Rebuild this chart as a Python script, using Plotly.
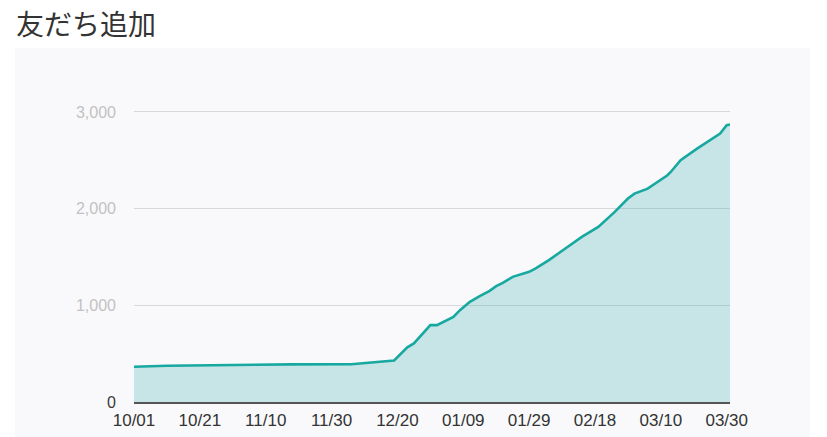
import plotly.graph_objects as go
import pandas as pd

# ---- data ----
start_date = "2022-10-01"
day_offsets = [0, 10, 48, 66, 79, 81, 83, 85, 87, 90, 92, 94, 97, 99, 102, 105, 108,
               110, 112, 115, 120, 122, 126, 131, 136, 141, 146, 150, 152, 156, 162,
               163, 166, 171, 175, 178, 180, 181]
friends = [365, 375, 389, 390, 430, 500, 565, 606, 682, 795, 795, 830, 881, 950, 1036,
           1095, 1150, 1198, 1232, 1294, 1346, 1381, 1467, 1588, 1708, 1811, 1966, 2104,
           2155, 2207, 2345, 2379, 2500, 2621, 2707, 2776, 2862, 2870]
tick_offsets = [0, 20, 40, 60, 80, 100, 120, 140, 160, 180]
y_tick_vals = [0, 1000, 2000, 3000]
y_tick_labels = ["0", "1,000", "2,000", "3,000"]
title_text = "友だち追加"

base = pd.Timestamp(start_date)
dates = [base + pd.Timedelta(days=d) for d in day_offsets]
tick_dates = [base + pd.Timedelta(days=d) for d in tick_offsets]
tick_text = [d.strftime("%m/%d") for d in tick_dates]

W, H = 827, 437
ml, mr, mt, mb = 134, 97, 110, 35

fig = go.Figure()
fig.add_trace(go.Scatter(
    x=dates, y=friends, mode="lines",
    line=dict(color="#17a8a0", width=2.6),
    fill="tozeroy", fillcolor="rgba(24,160,160,0.22)",
    hoverinfo="skip", showlegend=False,
))

pw = W - ml - mr
ph = H - mt - mb
# light panel behind chart
fig.add_shape(type="rect", xref="paper", yref="paper",
              x0=(15 - ml) / pw, x1=(810 - ml) / pw,
              y0=(H - mb - 437) / ph, y1=(H - mb - 48) / ph,
              fillcolor="#f9f9fb", line=dict(width=0), layer="below")

# title as annotation placed in paper coordinates
fig.add_annotation(text=title_text, xref="paper", yref="paper",
                   x=(14 - ml) / pw, xanchor="left",
                   y=(H - mb - 23) / ph, yanchor="middle",
                   showarrow=False,
                   font=dict(family="Noto Sans CJK JP", size=28, color="#333"))

ytext = [f'<span style="color:#3a3a3a">{t}</span>' if v == 0 else
         f'<span style="color:#c2c2c2">{t}</span>' for v, t in zip(y_tick_vals, y_tick_labels)]

fig.update_layout(
    width=W, height=H,
    margin=dict(l=ml, r=mr, t=mt, b=mb, pad=0, autoexpand=False),
    paper_bgcolor="white", plot_bgcolor="rgba(0,0,0,0)",
    font=dict(family="Liberation Sans, Arial, sans-serif", color="#333"),
    xaxis=dict(range=[base, base + pd.Timedelta(days=181)],
               tickvals=tick_dates, ticktext=tick_text,
               tickfont=dict(size=17, color="#333"),
               showgrid=False, zeroline=False, automargin=False,
               showline=True, linecolor="#555", linewidth=2,
               ticks="", ticklabelstandoff=2, fixedrange=True),
    yaxis=dict(range=[0, 3020], tickvals=y_tick_vals, ticktext=ytext,
               tickfont=dict(size=16), automargin=False,
               showgrid=True, gridcolor="#d9d9d9", gridwidth=1,
               zeroline=False, showline=False, ticks="",
               ticklabelstandoff=17, fixedrange=True),
)

fig.write_html("out.html")
